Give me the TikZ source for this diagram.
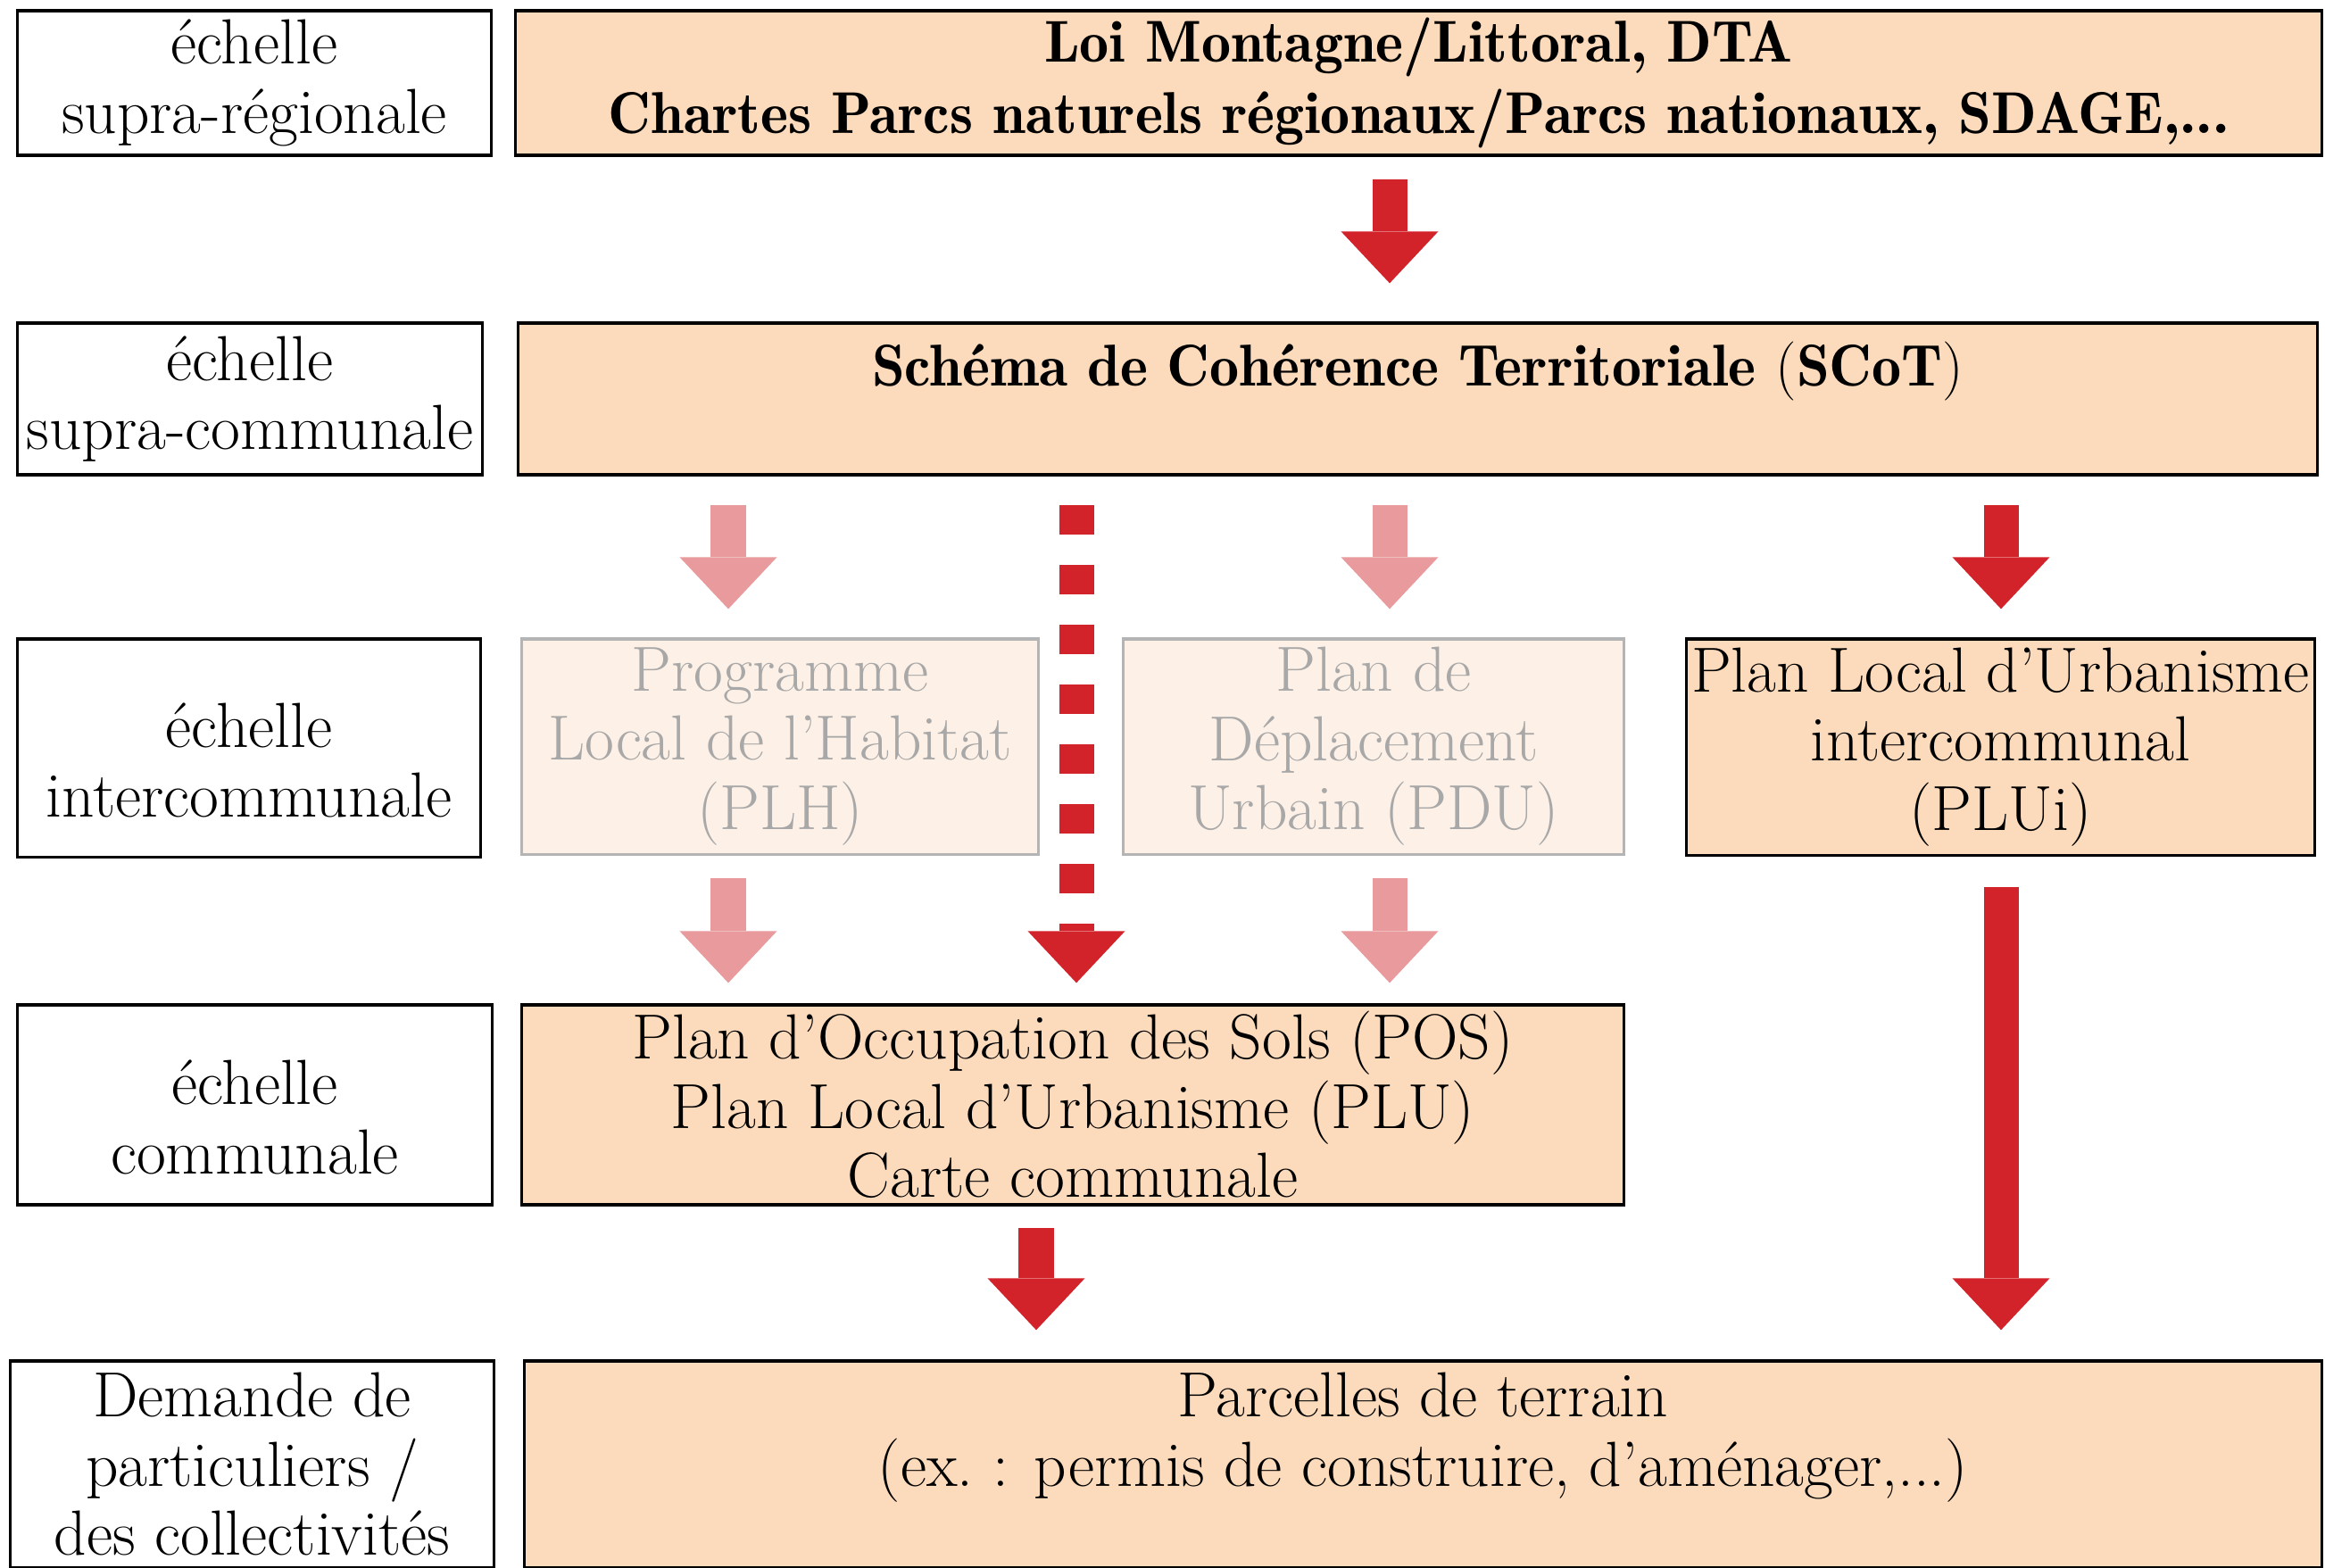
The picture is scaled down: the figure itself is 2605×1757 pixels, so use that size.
\documentclass[tikz,border=0pt]{standalone}
\usepackage{tikz}
\usetikzlibrary{arrows.meta,positioning}
\definecolor{peach}{RGB}{252,219,188}
\definecolor{palepeach}{RGB}{253,240,230}
\definecolor{darkred}{RGB}{210,35,42}
\definecolor{palered}{RGB}{232,154,156}
\definecolor{greytext}{RGB}{168,168,168}
\definecolor{greyline}{RGB}{180,180,180}
\tikzset{font=\fontsize{20.3}{22}\selectfont}
\tikzset{every node/.append style={align=center, inner sep=0pt}}
\tikzset{
  scalebox/.style={draw=black, line width=0.9pt, fill=white},
  planbox/.style={draw=black, line width=0.9pt, fill=peach},
  fadedbox/.style={draw=greyline, line width=0.9pt, fill=palepeach, text=greytext},
  bigarrow/.style={line width=0.39cm, -{Triangle[width=1.09cm,length=0.58cm,line width=0pt]}},
  darkarrow/.style={bigarrow, draw=darkred},
  palearrow/.style={bigarrow, draw=palered},
}
\newcommand{\demi}{\fontseries{b}\selectfont}

\begin{document}
\begin{tikzpicture}[x=0.01cm, y=-0.01cm]
  \useasboundingbox (0,0) rectangle (2605,1757);

  % echelles
  \node[scalebox, minimum width=5.3cm, minimum height=1.62cm] (supreg) at (285,93) {échelle\\supra-régionale};
  \node[scalebox, minimum width=5.2cm, minimum height=1.70cm] (supcom) at (280,447) {échelle\\supra-communale};
  \node[scalebox, minimum width=5.18cm, minimum height=2.44cm] (intercom) at (279,838) {\mbox{}\\échelle\\intercommunale};
  \node[scalebox, minimum width=5.31cm, minimum height=2.24cm] (com) at (285.5,1238) {\mbox{}\\échelle\\communale};
  \node[scalebox, minimum width=5.41cm, minimum height=2.31cm] (demande) at (282.5,1640.5) {Demande de\\particuliers /\\des collectivités};

  % documents
  \node[planbox, minimum width=20.23cm, minimum height=1.62cm, font=\fontsize{18.8}{22.5}\demi] (loi) at (1589.5,93)
    {Loi Montagne/Littoral, DTA\\Chartes Parcs naturels régionaux/Parcs nationaux, SDAGE,...};
  \node[planbox, minimum width=20.15cm, minimum height=1.70cm, font=\fontsize{18.8}{22.5}\demi] (scot) at (1588.5,447)
    {Schéma de Cohérence Territoriale {\fontseries{m}\selectfont(}SCoT{\fontseries{m}\selectfont)}\\\mbox{}};
  \node[fadedbox, minimum width=5.78cm, minimum height=2.41cm] (plh) at (874,836.5) {Programme\\Local de l’Habitat\\(PLH)};
  \node[fadedbox, minimum width=5.6cm, minimum height=2.41cm] (pdu) at (1539,836.5) {Plan de\\Déplacement\\Urbain (PDU)};
  \node[planbox, minimum width=7.03cm, minimum height=2.42cm] (plui) at (2241.5,837) {Plan Local d’Urbanisme\\intercommunal\\(PLUi)};
  \node[planbox, minimum width=12.34cm, minimum height=2.24cm] (pos) at (1202,1238)
    {Plan d’Occupation des Sols (POS)\\Plan Local d’Urbanisme (PLU)\\Carte communale};
  \node[planbox, minimum width=20.13cm, minimum height=2.31cm] (parcelles) at (1594.5,1640.5)
    {Parcelles de terrain\\(ex.\ : permis de construire, d’aménager,...)\\\mbox{}};

  % colonnes des fleches
  \coordinate (colA) at (816,0);
  \coordinate (colB) at (1206,0);
  \coordinate (colC) at (1557,0);
  \coordinate (colD) at (2242,0);
  \coordinate (colE) at (1161,0);

  \draw[darkarrow, shorten <=0.25cm, shorten >=0.43cm] (loi.south -| colC) -- (scot.north -| colC);
  \draw[palearrow, shorten <=0.32cm, shorten >=0.32cm] (scot.south -| colA) -- (plh.north -| colA);
  \draw[palearrow, shorten <=0.32cm, shorten >=0.32cm] (scot.south -| colC) -- (pdu.north -| colC);
  \draw[darkarrow, shorten <=0.32cm, shorten >=0.32cm] (scot.south -| colD) -- (plui.north -| colD);
  \draw[darkarrow, dash pattern=on 0.33cm off 0.34cm, shorten <=0.32cm, shorten >=0.23cm] (scot.south -| colB) -- (pos.north -| colB);
  \draw[palearrow, shorten <=0.25cm, shorten >=0.23cm] (plh.south -| colA) -- (pos.north -| colA);
  \draw[palearrow, shorten <=0.25cm, shorten >=0.23cm] (pdu.south -| colC) -- (pos.north -| colC);
  \draw[darkarrow, shorten <=0.34cm, shorten >=0.33cm] (plui.south -| colD) -- (parcelles.north -| colD);
  \draw[darkarrow, shorten <=0.24cm, shorten >=0.33cm] (pos.south -| colE) -- (parcelles.north -| colE);
\end{tikzpicture}
\end{document}
